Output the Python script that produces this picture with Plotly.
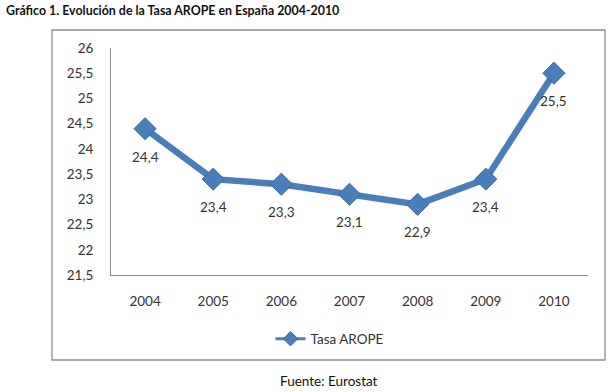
import plotly.graph_objects as go

years = ["2004", "2005", "2006", "2007", "2008", "2009", "2010"]
tasa = [24.4, 23.4, 23.3, 23.1, 22.9, 23.4, 25.5]
series_name = "Tasa AROPE"
title_text = "Gráfico 1. Evolución de la Tasa AROPE en España 2004-2010"
source_text = "Fuente: Eurostat"

W, H = 610, 392
L, R, T, B = 111, 22, 48, 117
pw, ph = W - L - R, H - T - B

def px_x(px):
    return (px - L) / pw

def px_y(py):
    return (H - B - py) / ph

blue = "#4a7ebb"
font_main = "Lato"
txt_color = "#333333"

fig = go.Figure()
fig.add_trace(go.Scatter(
    x=years, y=tasa, mode="lines+markers", name=series_name, showlegend=False,
    line=dict(color=blue, width=6.5),
    marker=dict(symbol="diamond", size=17, color=blue,
                line=dict(color="#3a69a3", width=1)),
))
# legend entry with smaller symbol
fig.add_trace(go.Scatter(
    x=[None], y=[None], mode="lines+markers", name=series_name, showlegend=True,
    line=dict(color=blue, width=3),
    marker=dict(symbol="diamond", size=11, color=blue,
                line=dict(color="#3a69a3", width=1)),
))

for i, yv in enumerate(tasa):
    fig.add_annotation(x=i, y=yv, text=f"{yv:.1f}".replace(".", ","),
                       showarrow=False, yshift=-28, xref="x", yref="y",
                       font=dict(family=font_main, size=13.5, color=txt_color))

# chart frame
fig.add_shape(type="rect", xref="paper", yref="paper",
              x0=px_x(52), x1=px_x(605), y0=px_y(360), y1=px_y(30),
              line=dict(color="#8c8c8c", width=1.3), layer="below")

fig.add_annotation(text=f"<b>{title_text}</b>", xref="paper", yref="paper",
                   x=px_x(4), y=px_y(10), xanchor="left", yanchor="middle",
                   showarrow=False, font=dict(family=font_main, size=12.4, color="#111111"))
fig.add_annotation(text=source_text, xref="paper", yref="paper",
                   x=px_x(329), y=px_y(381), xanchor="center", yanchor="middle",
                   showarrow=False, font=dict(family=font_main, size=13.5, color="#111111"))

fig.update_layout(
    width=W, height=H,
    margin=dict(l=L, r=R, t=T, b=B, pad=0),
    paper_bgcolor="white", plot_bgcolor="white",
    separators=",.",
    showlegend=True,
    legend=dict(orientation="h", x=px_x(330), y=px_y(339), xanchor="center",
                yanchor="middle", font=dict(family=font_main, size=13.5, color=txt_color),
                itemwidth=30),
    xaxis=dict(type="category", range=[-0.5, 6.5], showgrid=False,
               showline=True, linecolor="#8c8c8c", linewidth=1, ticks="",
               tickfont=dict(family=font_main, size=13.5, color=txt_color),
               ticklabelstandoff=14, fixedrange=True),
    yaxis=dict(range=[21.5, 26], dtick=0.5, showgrid=False, zeroline=False,
               showline=True, linecolor="#8c8c8c", linewidth=1, ticks="",
               tickfont=dict(family=font_main, size=13.5, color=txt_color),
               ticklabelstandoff=14, fixedrange=True),
)

fig.write_html("out.html", config={"displayModeBar": False},
               post_script="document.body.style.margin='0';document.body.style.overflow='hidden';")
